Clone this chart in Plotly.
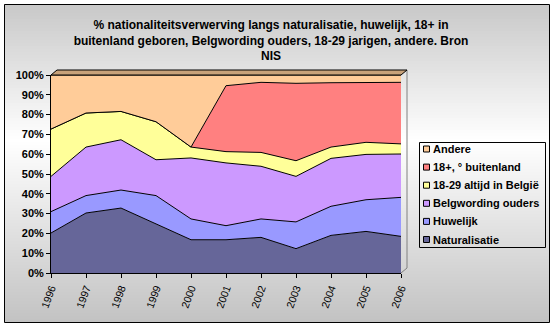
import plotly.graph_objects as go

years = [1996, 1997, 1998, 1999, 2000, 2001, 2002, 2003, 2004, 2005, 2006]
naturalisatie = [20.2, 30.3, 32.8, 24.7, 16.8, 16.8, 18.0, 12.3, 19.0, 21.0, 18.5]
huwelijk = [10.8, 8.8, 9.1, 14.4, 10.5, 7.1, 9.3, 13.5, 14.7, 16.0, 19.7]
belgwording = [17.8, 24.5, 25.4, 18.1, 30.8, 31.7, 26.6, 23.0, 24.2, 22.9, 21.9]
altijd_belgie = [23.9, 17.2, 14.3, 19.2, 5.5, 5.7, 7.0, 7.9, 5.7, 6.1, 5.1]
buitenland = [0, 0, 0, 0, 0, 33.3, 35.4, 39.1, 32.5, 30.1, 31.1]
andere = [27.3, 19.2, 18.4, 23.6, 36.4, 5.4, 3.7, 4.2, 3.9, 3.9, 3.7]

series_names = ["Naturalisatie", "Huwelijk", "Belgwording ouders",
                "18-29 altijd in België", "18+, ° buitenland", "Andere"]
series_values = [naturalisatie, huwelijk, belgwording, altijd_belgie, buitenland, andere]
series_colors = ["#666699", "#9999FF", "#CC99FF", "#FFFF99", "#FF8080", "#FFCC99"]

title_text = ("% nationaliteitsverwerving langs naturalisatie, huwelijk, 18+ in<br>"
              "buitenland geboren, Belgwording ouders, 18-29 jarigen, andere. Bron<br>NIS")

FONT = "Liberation Sans, Arial, sans-serif"
W, H = 553, 327
PL, PR, PT, PB = 51, 401, 75, 273

def px(x):
    return (x - PL) / (PR - PL)

def py(y):
    return (PB - y) / (PB - PT)

fig = go.Figure()
for name, vals, col in zip(series_names, series_values, series_colors):
    fig.add_trace(go.Scatter(
        x=years, y=vals, name=name, mode="lines", stackgroup="one",
        line=dict(color="black", width=1), fillcolor=col, showlegend=False,
    ))

shapes = []
annotations = []
# background gradient bands inside frame
top, mid, bot = 4, 140, 322
step = 3
y = top
while y < bot:
    yc = y + step / 2
    if yc <= mid:
        v = 200 + (255 - 200) * (yc - top) / (mid - top)
    else:
        v = 255 - (255 - 194) * (yc - mid) / (bot - mid)
    v = int(round(v))
    shapes.append(dict(type="rect", xref="paper", yref="paper", layer="below",
                       x0=px(4), x1=px(549), y0=py(min(y + step, bot)), y1=py(y),
                       line=dict(width=0), fillcolor=f"rgb({v},{v},{v})"))
    y += step

# 3D top edge of the back wall
shapes.append(dict(type="path", xref="paper", yref="paper", layer="above",
                   path=f"M {px(PL)},{py(PT)} L {px(PL+6)},{py(PT-5)} L {px(PR+6)},{py(PT-5)} L {px(PR)},{py(PT)} Z",
                   fillcolor="#C8A27A", line=dict(color="black", width=1)))
# back wall right edge
shapes.append(dict(type="path", xref="paper", yref="paper", layer="below",
                   path=f"M {px(PR)},{py(PB)} L {px(PR+6)},{py(PB-5)} L {px(PR+6)},{py(PT-5)}",
                   line=dict(color="#808080", width=1)))

# manual legend (reverse order: Andere on top)
leg_x0, leg_x1, leg_y0, leg_y1 = 419.5, 545.5, 142.5, 247.5
shapes.append(dict(type="rect", xref="paper", yref="paper", layer="above",
                   x0=px(leg_x0), x1=px(leg_x1), y0=py(leg_y1), y1=py(leg_y0),
                   line=dict(color="black", width=1), fillcolor="rgba(0,0,0,0)"))
row0, row_step = 149.0, 18.1
for i, (name, col) in enumerate(zip(series_names[::-1], series_colors[::-1])):
    yc = row0 + i * row_step
    shapes.append(dict(type="rect", xref="paper", yref="paper", layer="above",
                       x0=px(423.5), x1=px(429.5), y0=py(yc + 3), y1=py(yc - 3),
                       line=dict(color="black", width=1), fillcolor=col))
    annotations.append(dict(text=name, xref="paper", yref="paper", x=px(431), y=py(yc),
                            xanchor="left", yanchor="middle", showarrow=False,
                            font=dict(family=FONT, size=11, weight="bold", color="black")))

# frame
shapes.append(dict(type="rect", xref="paper", yref="paper", layer="above",
                   x0=px(4.5), x1=px(549.5), y0=py(322.5), y1=py(4.5),
                   line=dict(color="black", width=1), fillcolor="rgba(0,0,0,0)"))

fig.update_layout(
    width=W, height=H,
    margin=dict(l=PL, r=W - PR, t=PT, b=H - PB, pad=0),
    paper_bgcolor="white", plot_bgcolor="rgba(0,0,0,0)",
    shapes=shapes, annotations=annotations,
    font=dict(family=FONT, size=10, color="black"),
    title=dict(text=title_text, xref="container", x=271 / W, xanchor="center",
               yref="container", y=1 - 29 / H, yanchor="middle",
               font=dict(size=12, weight="bold", family=FONT)),
    showlegend=False,
    xaxis=dict(range=[1996, 2006], tickmode="array", tickvals=years, ticktext=[str(v) for v in years],
               tickangle=-70, showgrid=False, zeroline=False, showline=True, linecolor="black",
               linewidth=1, ticks="outside", ticklen=4, tickcolor="black",
               tickfont=dict(size=10.5)),
    yaxis=dict(range=[0, 100], tickmode="array", tickvals=list(range(0, 101, 10)),
               ticktext=[f"{v}%" for v in range(0, 101, 10)],
               showgrid=False, zeroline=False, showline=True, linecolor="black", linewidth=1,
               ticks="outside", ticklen=4, tickcolor="black",
               tickfont=dict(size=11, weight="bold")),
)

fig.write_html("out.html")
